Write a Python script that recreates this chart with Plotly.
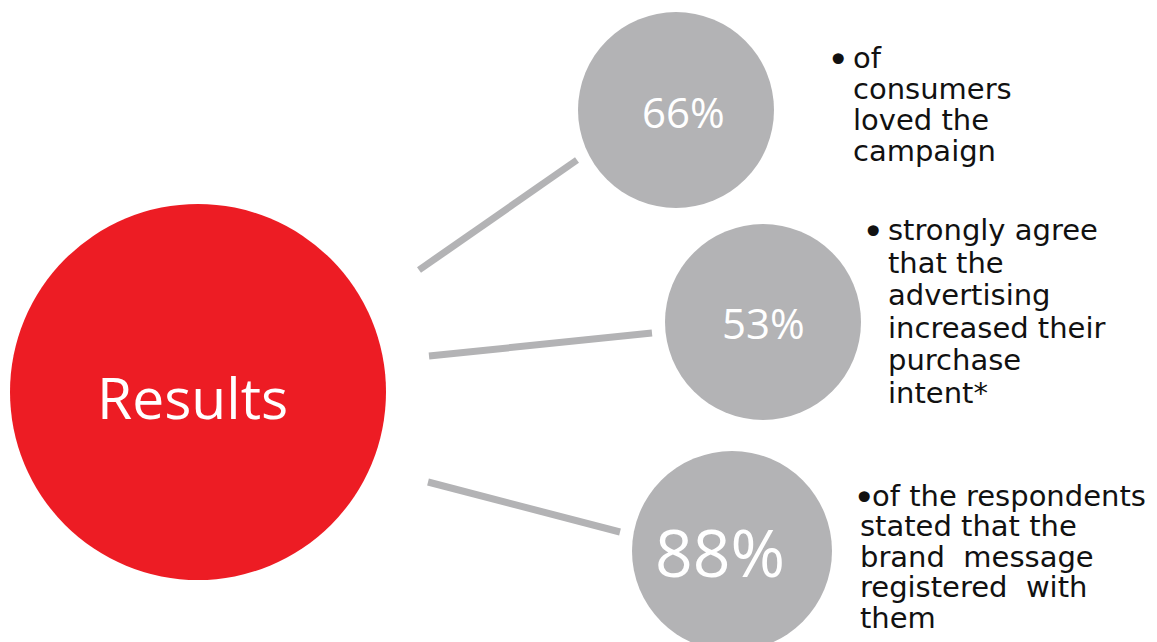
import plotly.graph_objects as go

# ---- data ----
center_label = "Results"
percent_values = [66, 53, 88]
percent_labels = [f"{v}%" for v in percent_values]
descriptions = [
    ["of", "consumers", "loved the", "campaign"],
    ["strongly agree", "that the", "advertising", "increased their", "purchase", "intent*"],
    ["of the respondents", "stated that the", "brand\u00a0 message", "registered\u00a0 with", "them"],
]

# ---- layout (pixel space) ----
W, H = 1157, 642
RED = "#ED1C24"
GRAY = "#B3B3B5"

main_c = (198, 392, 188)
sub_c = [(676, 110, 98), (763, 322, 98), (732, 551, 100)]
pct_pos = [(683, 111), (763, 322), (720, 551)]
pct_size = [42, 42, 66]
connectors = [((419, 270), (577, 160)), ((429, 356), (652, 333)), ((428, 482), (620, 532))]
text_blocks = [
    dict(bullet_x=826, x0=851, x=851, y0=58, dy=31),
    dict(bullet_x=861, x0=886, x=886, y0=230, dy=32.6),
    dict(bullet_x=852, x0=870, x=858, y0=496, dy=30.4),
]

fig = go.Figure()
shapes = []

# subtle right-side background gradient
n = 24
for i in range(n):
    x0 = 980 + i * (W - 980) / n
    shapes.append(dict(type="rect", xref="x", yref="y", x0=x0, x1=W, y0=0, y1=H,
                       fillcolor="rgba(200,200,200,0.008)", line=dict(width=0), layer="below"))

for (p0, p1) in connectors:
    shapes.append(dict(type="line", xref="x", yref="y", x0=p0[0], y0=p0[1], x1=p1[0], y1=p1[1],
                       line=dict(color=GRAY, width=7)))

cx, cy, r = main_c
shapes.append(dict(type="circle", xref="x", yref="y", x0=cx - r, x1=cx + r, y0=cy - r, y1=cy + r,
                   fillcolor=RED, line=dict(width=0)))
for (cx, cy, r) in sub_c:
    shapes.append(dict(type="circle", xref="x", yref="y", x0=cx - r, x1=cx + r, y0=cy - r, y1=cy + r,
                       fillcolor=GRAY, line=dict(width=0)))

ann = []
ann.append(dict(x=192, y=main_c[1] + 5, text=center_label, showarrow=False, xref="x", yref="y",
                font=dict(family="Open Sans", size=57, color="white")))
for (px, py), lab, fs in zip(pct_pos, percent_labels, pct_size):
    ann.append(dict(x=px, y=py, text=lab, showarrow=False, xref="x", yref="y",
                    font=dict(family="Open Sans", size=fs, color="white")))

TF = dict(family="DejaVu Sans, Verdana", size=29, color="#111111")
BF = dict(family="DejaVu Sans, Verdana", size=38, color="#111111")
for blk, lines in zip(text_blocks, descriptions):
    for i, line in enumerate(lines):
        if i == 0:
            ann.append(dict(x=blk["bullet_x"], y=blk["y0"] + 2, text="\u2022", showarrow=False,
                            xref="x", yref="y", xanchor="left", yanchor="middle", font=BF,
                            borderpad=0))
        ann.append(dict(x=blk["x0"] if i == 0 else blk["x"], y=blk["y0"] + i * blk["dy"], text=line,
                        showarrow=False, xref="x", yref="y",
                        xanchor="left", yanchor="middle", font=TF))

fig.update_layout(
    width=W, height=H, margin=dict(l=0, r=0, t=0, b=0),
    paper_bgcolor="white", plot_bgcolor="white",
    xaxis=dict(range=[0, W], visible=False, fixedrange=True),
    yaxis=dict(range=[H, 0], visible=False, fixedrange=True),
    shapes=shapes, annotations=ann, showlegend=False,
)
fig.write_html("out.html", config={"displayModeBar": False})
